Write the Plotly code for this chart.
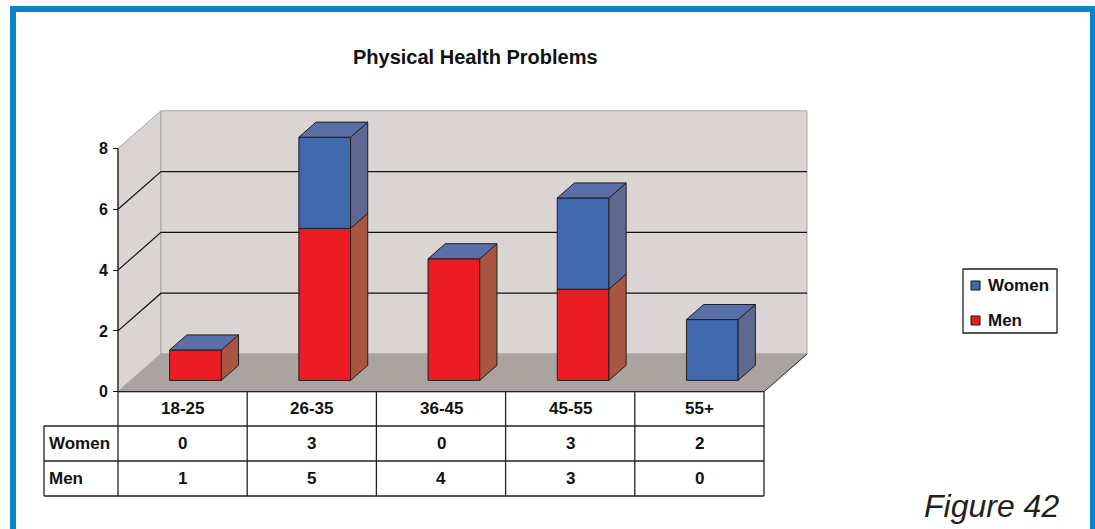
import plotly.graph_objects as go

# ---- data ----
categories = ["18-25", "26-35", "36-45", "45-55", "55+"]
men = [1, 5, 4, 3, 0]
women = [0, 3, 0, 3, 2]
y_ticks = [0, 2, 4, 6, 8]
chart_title = "Physical Health Problems"
figure_label = "Figure 42"

# ---- layout geometry (pixels) ----
W, H = 1095, 529
X0_PX = 118.0          # front-left corner of the floor
Y0_PX = 391.7          # value 0 on the front plane
PX_PER_CAT = 129.2     # width of one category slot
PX_PER_UNIT = 30.4     # height of one value unit
DX = 43.0 / PX_PER_CAT     # depth shift, category units
DY = 37.7 / PX_PER_UNIT    # depth shift, value units
Z_FRONT, Z_BACK = 0.30, 0.70
BAR_L, BAR_R = 0.30, 0.70
N = len(categories)
Y_TOP = max(y_ticks)

FONT = "Arial, Liberation Sans, sans-serif"
FRAME_BLUE = "#0A85CA"
WALL = "#DAD5D2"
WALL_EDGE = "#A9A4A1"
FLOOR = "#AAA3A0"
EDGE = "#1E1E1E"

series = [
    dict(name="Men", values=men, front="#ED1C24", side="#A9553F", top="#C4453F"),
    dict(name="Women", values=women, front="#4169B0", side="#5F6891", top="#5B6FA7"),
]


def proj(x, z, v):
    """Oblique projection of (category x, depth z, value v) onto the 2D axes."""
    return x + z * DX, v + z * DY


def py(px):
    """Vertical pixel position to value units."""
    return (Y0_PX - px) / PX_PER_UNIT


def px_x(px):
    return (px - X0_PX) / PX_PER_CAT


fig = go.Figure()


def poly(points, fill, line_color, width=1):
    xs = [p[0] for p in points] + [points[0][0]]
    ys = [p[1] for p in points] + [points[0][1]]
    fig.add_trace(go.Scatter(
        x=xs, y=ys, mode="lines", fill="toself", fillcolor=fill,
        line=dict(color=line_color, width=width),
        hoverinfo="skip", showlegend=False))


def seg(points, color, width=1):
    fig.add_trace(go.Scatter(
        x=[p[0] for p in points], y=[p[1] for p in points], mode="lines",
        line=dict(color=color, width=width),
        hoverinfo="skip", showlegend=False))


# walls and floor
poly([proj(0, 0, 0), proj(0, 1, 0), proj(0, 1, Y_TOP), proj(0, 0, Y_TOP)], WALL, WALL_EDGE)
poly([proj(0, 1, 0), proj(N, 1, 0), proj(N, 1, Y_TOP), proj(0, 1, Y_TOP)], WALL, WALL_EDGE)
poly([proj(0, 0, 0), proj(N, 0, 0), proj(N, 1, 0), proj(0, 1, 0)], FLOOR, FLOOR)

# gridlines on left and back walls
for v in y_ticks[1:-1]:
    seg([proj(0, 0, v), proj(0, 1, v), proj(N, 1, v)], "#111111", 1.2)

# floor right edge
seg([proj(N, 0, 0), proj(N, 1, 0)], "#333333", 1)

# stacked 3D bars
for i in range(N):
    x0, x1 = i + BAR_L, i + BAR_R
    base = 0
    for s in series:
        v = s["values"][i]
        top = base + v
        if v > 0:
            poly([proj(x0, Z_FRONT, base), proj(x1, Z_FRONT, base),
                  proj(x1, Z_FRONT, top), proj(x0, Z_FRONT, top)], s["front"], EDGE)
            poly([proj(x1, Z_FRONT, base), proj(x1, Z_BACK, base),
                  proj(x1, Z_BACK, top), proj(x1, Z_FRONT, top)], s["side"], EDGE)
        base = top
    cap = series[-1]["top"]
    poly([proj(x0, Z_FRONT, base), proj(x1, Z_FRONT, base),
          proj(x1, Z_BACK, base), proj(x0, Z_BACK, base)], cap, EDGE)

# value axis line
seg([proj(0, 0, 0), proj(0, 0, Y_TOP)], "#111111", 1.2)

# ---- data table under the plot ----
ROW_Y = [Y0_PX, 426.0, 461.0, 496.0]
LABEL_LEFT = 44.0
shapes = []
tline = dict(color="#222222", width=1.3)
for k in range(N + 1):
    shapes.append(dict(type="line", xref="x", yref="y", x0=k, x1=k,
                       y0=py(ROW_Y[0]), y1=py(ROW_Y[-1]), line=tline))
shapes.append(dict(type="line", xref="x", yref="y", x0=0, x1=N,
                   y0=py(ROW_Y[0]), y1=py(ROW_Y[0]), line=tline))
for ry in ROW_Y[1:]:
    shapes.append(dict(type="line", xref="x", yref="y", x0=px_x(LABEL_LEFT), x1=N,
                       y0=py(ry), y1=py(ry), line=tline))
shapes.append(dict(type="line", xref="x", yref="y", x0=px_x(LABEL_LEFT), x1=px_x(LABEL_LEFT),
                   y0=py(ROW_Y[1]), y1=py(ROW_Y[-1]), line=tline))

annotations = []
tfont = dict(family=FONT, size=17, color="#111111", weight="bold")
for i, c in enumerate(categories):
    annotations.append(dict(x=i + 0.5, y=py((ROW_Y[0] + ROW_Y[1]) / 2), xref="x", yref="y",
                            xanchor="center", yanchor="middle",
                            text=c, showarrow=False, font=tfont))
table_rows = [("Women", women), ("Men", men)]
for r, (label, vals) in enumerate(table_rows):
    yc = py((ROW_Y[r + 1] + ROW_Y[r + 2]) / 2)
    annotations.append(dict(x=px_x(LABEL_LEFT + 3), y=yc, xref="x", yref="y",
                            xanchor="left", yanchor="middle",
                            text=label, showarrow=False, font=tfont))
    for i, v in enumerate(vals):
        annotations.append(dict(x=i + 0.5, y=yc, xref="x", yref="y",
                                xanchor="center", yanchor="middle",
                                text=str(v), showarrow=False, font=tfont))

# ---- legend ----
LEG_L, LEG_T, LEG_R, LEG_B = 963, 269, 1057, 333
shapes.append(dict(type="rect", xref="paper", yref="paper",
                   x0=LEG_L / W, x1=LEG_R / W, y0=1 - LEG_B / H, y1=1 - LEG_T / H,
                   line=dict(color="#222222", width=1.3), fillcolor="white"))
for yc, s in [(285.5, series[1]), (320.5, series[0])]:
    shapes.append(dict(type="rect", xref="paper", yref="paper",
                       x0=971 / W, x1=980 / W, y0=1 - (yc + 4.5) / H, y1=1 - (yc - 4.5) / H,
                       line=dict(color="#111111", width=1), fillcolor=s["front"]))
    annotations.append(dict(x=986 / W, y=1 - yc / H, xref="paper", yref="paper",
                            xanchor="left", yanchor="middle",
                            text=s["name"], showarrow=False, font=tfont))

# ---- outer frame and caption ----
shapes.append(dict(type="rect", xref="paper", yref="paper",
                   x0=13 / W, x1=1093 / W, y0=-0.05, y1=1 - 9 / H,
                   line=dict(color=FRAME_BLUE, width=6), layer="above"))
annotations.append(dict(x=1061 / W, y=1 - 506 / H, xref="paper", yref="paper",
                        xanchor="right", yanchor="middle", text=figure_label, showarrow=False,
                        font=dict(family=FONT, size=32, color="#231F20", style="italic")))
annotations.append(dict(x=475.5 / W, y=1 - 57 / H, xref="paper", yref="paper",
                        xanchor="center", yanchor="middle",
                        text=chart_title, showarrow=False,
                        font=dict(family=FONT, size=20, color="#111111", weight="bold")))

fig.update_layout(
    width=W, height=H,
    margin=dict(l=0, r=0, t=0, b=0),
    paper_bgcolor="white", plot_bgcolor="white",
    showlegend=False,
    shapes=shapes, annotations=annotations,
    xaxis=dict(domain=[0, 1], range=[-X0_PX / PX_PER_CAT, (W - X0_PX) / PX_PER_CAT],
               visible=False, fixedrange=True),
    yaxis=dict(domain=[0, 1], range=[-(H - Y0_PX) / PX_PER_UNIT, Y0_PX / PX_PER_UNIT],
               anchor="free", position=X0_PX / W,
               tickvals=y_ticks, ticks="outside", ticklen=5, tickcolor="#111111",
               ticklabelstandoff=2,
               showline=False, showgrid=False, zeroline=False, fixedrange=True,
               tickfont=dict(family=FONT, size=16, color="#111111", weight="bold")),
)

fig.write_html("out.html")
